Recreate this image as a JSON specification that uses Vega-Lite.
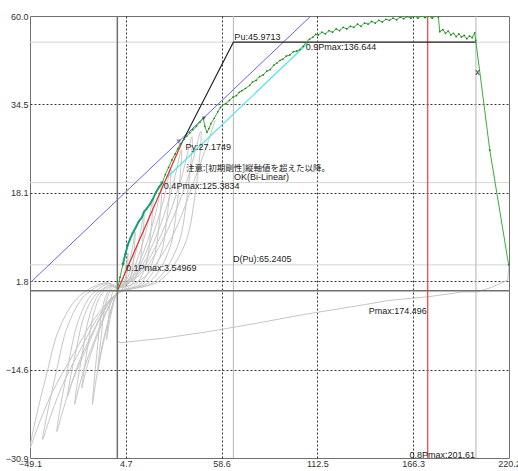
{
"$schema": "https://vega.github.io/schema/vega-lite/v6.json",
"width": 479, "height": 442,
"autosize": {"type": "none"},
"padding": {"left": 30, "top": 16, "right": 9, "bottom": 13},
"background": "white",
"config": {
  "view": {"stroke": "#707070", "strokeWidth": 1},
  "axis": {"labelFont": "Liberation Sans Narrow, Liberation Sans, sans-serif", "labelFontSize": 9, "labelColor": "#333", "domain": false, "ticks": false, "title": null, "gridColor": "#333", "gridDash": [2, 2], "gridWidth": 1, "labelOverlap": false, "labelFlush": false}
},
"datasets": {
  "vlines": [{"k": "zero", "x": 0}, {"k": "dpu", "x": 65.24}, {"k": "pmax", "x": 174.496}, {"k": "p08", "x": 201.61}],
  "hlines": [{"k": "zero", "y": 0}, {"k": "pu", "y": 45.97}, {"k": "p04", "y": 20.0}, {"k": "p01", "y": 4.8}],
  "gray": [
    {"i":0,"x":0,"y":0},
    {"i":1,"x":1.8,"y":0.8},{"i":2,"x":3.6,"y":2.7},{"i":3,"x":5.1,"y":5.0},{"i":4,"x":6,"y":7},{"i":5,"x":5.6,"y":4.2},{"i":6,"x":4.8,"y":2.0},{"i":7,"x":3,"y":0.4},{"i":8,"x":0,"y":-0.5},
    {"i":9,"x":-1.5,"y":-1.5},{"i":10,"x":-3,"y":-3.6},{"i":11,"x":-4.5,"y":-5.9},{"i":12,"x":-5.5,"y":-7.9},{"i":13,"x":-6,"y":-9},{"i":14,"x":-5.8,"y":-8.1},{"i":15,"x":-4.9,"y":-5},{"i":16,"x":-4,"y":-2.1},{"i":17,"x":-2.6,"y":-0.3},{"i":18,"x":-0.7,"y":0.5},{"i":19,"x":0,"y":0.5},
    {"i":20,"x":3,"y":1.3},{"i":21,"x":6,"y":4.2},{"i":22,"x":8.5,"y":7.9},{"i":23,"x":10,"y":11},{"i":24,"x":9.3,"y":6.6},{"i":25,"x":8,"y":3.1},{"i":26,"x":5,"y":0.7},{"i":27,"x":0,"y":-0.5},
    {"i":28,"x":-2.8,"y":-2.6},{"i":29,"x":-5.5,"y":-6},{"i":30,"x":-8.3,"y":-9.8},{"i":31,"x":-10.1,"y":-13.2},{"i":32,"x":-11,"y":-15},{"i":33,"x":-10.7,"y":-13.5},{"i":34,"x":-9,"y":-8.3},{"i":35,"x":-7.3,"y":-3.5},{"i":36,"x":-4.7,"y":-0.5},{"i":37,"x":-1.3,"y":0.8},{"i":38,"x":0,"y":0.5},
    {"i":39,"x":4.5,"y":1.7},{"i":40,"x":9,"y":5.5},{"i":41,"x":12.8,"y":10.4},{"i":42,"x":15,"y":14.5},{"i":43,"x":14,"y":8.7},{"i":44,"x":12,"y":4.1},{"i":45,"x":7.5,"y":0.9},{"i":46,"x":0,"y":-0.5},
    {"i":47,"x":-3.5,"y":-3.6},{"i":48,"x":-7,"y":-8.4},{"i":49,"x":-10.5,"y":-13.7},{"i":50,"x":-12.9,"y":-18.5},{"i":51,"x":-14,"y":-21},{"i":52,"x":-13.6,"y":-18.9},{"i":53,"x":-11.5,"y":-11.6},{"i":54,"x":-9.2,"y":-4.8},{"i":55,"x":-6,"y":-0.6},{"i":56,"x":-1.7,"y":1.1},{"i":57,"x":0,"y":0.5},
    {"i":58,"x":6,"y":2},{"i":59,"x":12,"y":6.5},{"i":60,"x":17,"y":12.2},{"i":61,"x":20,"y":17},{"i":62,"x":18.6,"y":10.2},{"i":63,"x":16,"y":4.8},{"i":64,"x":10,"y":1},{"i":65,"x":0,"y":-0.5},
    {"i":66,"x":-5,"y":-3.1},{"i":67,"x":-10,"y":-7.2},{"i":68,"x":-15,"y":-11.7},{"i":69,"x":-18.4,"y":-15.8},{"i":70,"x":-20,"y":-18},{"i":71,"x":-19.4,"y":-16.2},{"i":72,"x":-16.4,"y":-9.9},{"i":73,"x":-13.2,"y":-4.1},{"i":74,"x":-8.6,"y":-0.5},{"i":75,"x":-2.4,"y":0.9},{"i":76,"x":0,"y":0.5},
    {"i":77,"x":7.5,"y":2.3},{"i":78,"x":15,"y":7.4},{"i":79,"x":21.3,"y":14},{"i":80,"x":25,"y":19.5},{"i":81,"x":23.3,"y":11.7},{"i":82,"x":20,"y":5.5},{"i":83,"x":12.5,"y":1.2},{"i":84,"x":0,"y":-0.5},
    {"i":85,"x":-6,"y":-3.6},{"i":86,"x":-12,"y":-8.4},{"i":87,"x":-18,"y":-13.7},{"i":88,"x":-22.1,"y":-18.5},{"i":89,"x":-24,"y":-21},{"i":90,"x":-23.3,"y":-18.9},{"i":91,"x":-19.7,"y":-11.6},{"i":92,"x":-15.8,"y":-4.8},{"i":93,"x":-10.3,"y":-0.6},{"i":94,"x":-2.9,"y":1.1},{"i":95,"x":0,"y":0.5},
    {"i":96,"x":9,"y":2.7},{"i":97,"x":18,"y":8.6},{"i":98,"x":25.5,"y":16.2},{"i":99,"x":30,"y":22.5},{"i":100,"x":27.9,"y":13.5},{"i":101,"x":24,"y":6.3},{"i":102,"x":15,"y":1.4},{"i":103,"x":0,"y":-0.5},
    {"i":104,"x":-7,"y":-3.3},{"i":105,"x":-14,"y":-7.8},{"i":106,"x":-21,"y":-12.7},{"i":107,"x":-25.8,"y":-17.2},{"i":108,"x":-28,"y":-19.5},{"i":109,"x":-27.2,"y":-17.6},{"i":110,"x":-23,"y":-10.7},{"i":111,"x":-18.5,"y":-4.5},{"i":112,"x":-12,"y":-0.6},{"i":113,"x":-3.4,"y":1},{"i":114,"x":0,"y":0.5},
    {"i":115,"x":10.8,"y":3.1},{"i":116,"x":21.6,"y":9.9},{"i":117,"x":30.6,"y":18.7},{"i":118,"x":36,"y":26},{"i":119,"x":33.5,"y":15.6},{"i":120,"x":28.8,"y":7.3},{"i":121,"x":18,"y":1.6},{"i":122,"x":0,"y":-0.5},
    {"i":123,"x":-8.5,"y":-4.4},{"i":124,"x":-17,"y":-10.4},{"i":125,"x":-25.5,"y":-16.9},{"i":126,"x":-31.3,"y":-22.9},{"i":127,"x":-34,"y":-26},{"i":128,"x":-33,"y":-23.4},{"i":129,"x":-27.9,"y":-14.3},{"i":130,"x":-22.4,"y":-6},{"i":131,"x":-14.6,"y":-0.8},{"i":132,"x":-4.1,"y":1.3},{"i":133,"x":0,"y":0.5},
    {"i":134,"x":12.6,"y":3.4},{"i":135,"x":25.2,"y":10.8},{"i":136,"x":35.7,"y":20.5},{"i":137,"x":42,"y":28.5},{"i":138,"x":39.1,"y":17.1},{"i":139,"x":33.6,"y":8},{"i":140,"x":21,"y":1.7},{"i":141,"x":0,"y":-0.5},
    {"i":142,"x":-10.5,"y":-4.7},{"i":143,"x":-21,"y":-11},{"i":144,"x":-31.5,"y":-17.9},{"i":145,"x":-38.6,"y":-24.2},{"i":146,"x":-42,"y":-27.5},{"i":147,"x":-40.7,"y":-24.8},{"i":148,"x":-34.4,"y":-15.1},{"i":149,"x":-27.7,"y":-6.3},{"i":150,"x":-18.1,"y":-0.8},{"i":151,"x":-5,"y":1.4},{"i":152,"x":0,"y":0.5},
    {"i":153,"x":14.1,"y":3.5},{"i":154,"x":28.2,"y":11.2},{"i":155,"x":40,"y":21.2},{"i":156,"x":47,"y":29.5},{"i":157,"x":43.7,"y":17.7},{"i":158,"x":37.6,"y":8.3},{"i":159,"x":23.5,"y":1.8},{"i":160,"x":0,"y":-0.5},
    {"i":161,"x":-12.3,"y":-4.9},{"i":162,"x":-24.5,"y":-11.6},{"i":163,"x":-36.8,"y":-18.9},{"i":164,"x":-45.1,"y":-25.5},{"i":165,"x":-49,"y":-29},{"i":166,"x":-47.5,"y":-26.1},{"i":167,"x":-40.2,"y":-16},{"i":168,"x":-32.3,"y":-6.7},{"i":169,"x":-21.1,"y":-0.9},{"i":170,"x":-5.9,"y":1.5},{"i":171,"x":0,"y":0.5},
    {"i":172,"x":15,"y":2.5},{"i":173,"x":30,"y":9.5},{"i":174,"x":45,"y":22},{"i":175,"x":55,"y":31.5}
  ],
  "tail": [
    {"i":0,"x":220.2,"y":4.8},{"i":1,"x":219.5,"y":2.0},{"i":2,"x":210,"y":0.6},{"i":3,"x":202,"y":-0.2},{"i":4,"x":194.2,"y":-0.2},{"i":5,"x":174.5,"y":-1.1},{"i":6,"x":152,"y":-1.8},{"i":7,"x":143.6,"y":-2.3},{"i":8,"x":125,"y":-3.3},{"i":9,"x":102.6,"y":-4.5},{"i":10,"x":80,"y":-5.9},{"i":11,"x":50,"y":-7.6},{"i":12,"x":25,"y":-8.8},{"i":13,"x":7.1,"y":-9.4},{"i":14,"x":2,"y":-9.6},{"i":15,"x":0,"y":-9.3},{"i":16,"x":0,"y":-7.5}
  ],
  "green": [
    {"i":1,"x":0,"y":0},{"i":2,"x":1.5,"y":2.5},{"i":3,"x":3.2,"y":5.0},{"i":4,"x":4.5,"y":6.8},{"i":5,"x":6,"y":8.6},{"i":6,"x":7.2,"y":9.6},{"i":7,"x":8.5,"y":10.6},{"i":8,"x":10.5,"y":11.8},{"i":9,"x":12,"y":12.8},{"i":10,"x":13.8,"y":13.6},{"i":11,"x":15,"y":14.6},{"i":12,"x":16.5,"y":15.2},{"i":13,"x":18.3,"y":16.0},{"i":14,"x":20,"y":17.0},{"i":15,"x":21.7,"y":18.2},{"i":16,"x":23.5,"y":19.2},{"i":17,"x":25.1,"y":19.9},{"i":18,"x":27,"y":21.5},{"i":19,"x":28.8,"y":22.8},{"i":20,"x":30.7,"y":24.2},{"i":21,"x":32.5,"y":25.3},{"i":22,"x":34,"y":26.3},{"i":23,"x":35.5,"y":27.2},{"i":24,"x":37.5,"y":28.0},{"i":25,"x":39,"y":28.6},{"i":26,"x":40.8,"y":29.2},{"i":27,"x":42.5,"y":29.8},{"i":28,"x":44.5,"y":30.4},{"i":29,"x":46.5,"y":31.2},{"i":30,"x":48.3,"y":31.9},{"i":31,"x":49.2,"y":30.4},{"i":32,"x":50.4,"y":29.3},{"i":33,"x":51.5,"y":30.0},{"i":34,"x":52.6,"y":30.9},{"i":35,"x":54.5,"y":31.9},{"i":36,"x":56.5,"y":33.1},{"i":37,"x":58,"y":33.9},{"i":38,"x":59.3,"y":34.4},{"i":39,"x":61,"y":34.6},{"i":40,"x":63,"y":35.2},{"i":41,"x":65,"y":35.8},{"i":42,"x":67,"y":36.1},{"i":43,"x":68.5,"y":36.7},{"i":44,"x":70,"y":37.0},{"i":45,"x":72,"y":37.4},{"i":46,"x":74.5,"y":38.0},{"i":47,"x":76,"y":38.6},{"i":48,"x":78,"y":38.9},{"i":49,"x":80,"y":39.6},{"i":50,"x":82,"y":39.9},{"i":51,"x":84,"y":40.6},{"i":52,"x":86,"y":40.9},{"i":53,"x":88,"y":41.7},{"i":54,"x":89.7,"y":42.1},{"i":55,"x":91.5,"y":42.6},{"i":56,"x":93,"y":42.8},{"i":57,"x":95,"y":43.4},{"i":58,"x":97,"y":43.6},{"i":59,"x":99,"y":44.2},{"i":60,"x":100.8,"y":44.3},{"i":61,"x":102.6,"y":44.6},{"i":62,"x":104.5,"y":45.2},{"i":63,"x":106,"y":45.9},{"i":64,"x":108,"y":46.5},{"i":65,"x":110,"y":46.9},{"i":66,"x":111.5,"y":47.4},{"i":67,"x":113,"y":47.3},{"i":68,"x":115,"y":47.8},{"i":69,"x":117,"y":47.5},{"i":70,"x":119,"y":48.1},{"i":71,"x":121,"y":47.8},{"i":72,"x":123,"y":48.4},{"i":73,"x":125,"y":48.1},{"i":74,"x":127,"y":48.7},{"i":75,"x":129,"y":48.4},{"i":76,"x":131,"y":48.9},{"i":77,"x":133,"y":48.7},{"i":78,"x":135,"y":49.3},{"i":79,"x":137,"y":48.9},{"i":80,"x":139,"y":49.5},{"i":81,"x":141,"y":49.3},{"i":82,"x":143,"y":49.8},{"i":83,"x":145,"y":49.5},{"i":84,"x":147,"y":50.0},{"i":85,"x":149,"y":49.7},{"i":86,"x":151,"y":50.2},{"i":87,"x":153,"y":50.0},{"i":88,"x":155,"y":50.4},{"i":89,"x":157,"y":50.1},{"i":90,"x":159,"y":50.6},{"i":91,"x":161,"y":50.3},{"i":92,"x":163,"y":50.7},{"i":93,"x":165,"y":50.4},{"i":94,"x":167,"y":50.8},{"i":95,"x":169,"y":50.4},{"i":96,"x":171,"y":50.8},{"i":97,"x":173,"y":50.5},{"i":98,"x":175,"y":50.8},{"i":99,"x":177,"y":50.4},{"i":100,"x":179,"y":50.8},{"i":101,"x":180.5,"y":50.6},{"i":102,"x":181.3,"y":47.9},{"i":103,"x":183,"y":48.3},{"i":104,"x":184.5,"y":47.6},{"i":105,"x":186,"y":48.0},{"i":106,"x":187.5,"y":47.3},{"i":107,"x":189,"y":47.6},{"i":108,"x":190.5,"y":47.0},{"i":109,"x":192,"y":47.5},{"i":110,"x":193.5,"y":46.9},{"i":111,"x":195,"y":47.2},{"i":112,"x":196.5,"y":46.6},{"i":113,"x":198,"y":47.1},{"i":114,"x":199.5,"y":46.8},{"i":115,"x":200.9,"y":47.7},{"i":116,"x":201.5,"y":46.3},{"i":117,"x":209.4,"y":26.0},{"i":118,"x":220.0,"y":4.8}
  ],
  "teal": [
    {"i":1,"x":3.2,"y":5.0},{"i":2,"x":4.5,"y":6.8},{"i":3,"x":6,"y":8.6},{"i":4,"x":7.2,"y":9.6},{"i":5,"x":8.5,"y":10.6},{"i":6,"x":10.5,"y":11.8},{"i":7,"x":12,"y":12.8},{"i":8,"x":13.8,"y":13.6},{"i":9,"x":15,"y":14.6},{"i":10,"x":16.5,"y":15.2},{"i":11,"x":18.3,"y":16.0},{"i":12,"x":20,"y":17.0},{"i":13,"x":21.7,"y":18.2},{"i":14,"x":23.5,"y":19.2},{"i":15,"x":25.1,"y":19.9}
  ],
  "red": [{"i":1,"x":0,"y":0},{"i":2,"x":36,"y":27.17}],
  "black": [{"i":1,"x":36,"y":27.17},{"i":2,"x":65.24,"y":45.97},{"i":3,"x":201.61,"y":45.97}],
  "blue": [{"i":1,"x":-49.1,"y":1.46},{"i":2,"x":108.8,"y":50.8}],
  "cyan": [{"i":1,"x":28,"y":21.0},{"i":2,"x":107.1,"y":45.8}],
  "marks": [{"k":"py","x":34.5,"y":27.6},{"k":"dark","x":48.7,"y":31.9},{"k":"g","x":25.1,"y":19.9},{"k":"g","x":3.2,"y":4.8}],
  "labl": [
    {"t":"Pu:45.9713","x":65.24,"y":46.9},
    {"t":"0.9Pmax:136.644","x":105.4,"y":45.1},
    {"t":"Py:27.1749","x":37.8,"y":26.6},
    {"t":"OK(Bi-Linear)","x":65.0,"y":21.0},
    {"t":"0.4Pmax:125.3834","x":25.6,"y":19.4},
    {"t":"0.1Pmax:3.54969","x":4.3,"y":4.2},
    {"t":"D(Pu):65.2405","x":64.4,"y":5.9},
    {"t":"x","x":200.6,"y":40.5}
  ],
  "labr": [{"t":"Pmax:174.496","x":174.496,"y":-3.7},{"t":"0.8Pmax:201.61","x":201.61,"y":-30.3}],
  "labj": [{"t":"注意:[初期剛性]縦軸値を超えた以降。","x":38.6,"y":22.7}]
},
"layer": [
  {"data": {"name": "hlines"}, "transform": [{"filter": "datum.k != 'zero'"}], "mark": {"type": "rule", "color": "#d4d4d4", "strokeWidth": 1},
   "encoding": {"y": {"field": "y", "type": "quantitative", "scale": {"domain": [-30.9, 50.8], "nice": false, "zero": false},
     "axis": {"values": [-30.9, -14.6, 1.8, 18.1, 34.5, 50.8], "labelExpr": "datum.value > 50 ? '60.0' : format(datum.value, '.1f')", "labelPadding": 2, "gridOpacity": {"condition": {"test": "datum.value < -30.8 || datum.value > 50.7", "value": 0}, "value": 1}}}}},
  {"data": {"name": "vlines"}, "transform": [{"filter": "datum.k == 'dpu' || datum.k == 'p08'"}], "mark": {"type": "rule", "color": "#b4b4b4", "strokeWidth": 1},
   "encoding": {"x": {"field": "x", "type": "quantitative", "scale": {"domain": [-49.1, 220.2], "nice": false, "zero": false},
     "axis": {"values": [-49.1, 4.7, 58.6, 112.5, 166.3, 220.2], "format": ".1f", "labelPadding": 1, "gridOpacity": {"condition": {"test": "datum.value < -49 || datum.value > 220", "value": 0}, "value": 1}}}}},
  {"data": {"name": "gray"}, "mark": {"type": "line", "color": "#c6c6c6", "strokeWidth": 1, "interpolate": "catmull-rom", "clip": true},
   "encoding": {"x": {"field": "x", "type": "quantitative", "scale": {"domain": [-49.1, 220.2], "nice": false, "zero": false}}, "y": {"field": "y", "type": "quantitative", "scale": {"domain": [-30.9, 50.8], "nice": false, "zero": false}}, "order": {"field": "i"}}},
  {"data": {"name": "tail"}, "mark": {"type": "line", "color": "#c6c6c6", "strokeWidth": 1, "clip": true},
   "encoding": {"x": {"field": "x", "type": "quantitative", "scale": {"domain": [-49.1, 220.2], "nice": false, "zero": false}}, "y": {"field": "y", "type": "quantitative", "scale": {"domain": [-30.9, 50.8], "nice": false, "zero": false}}, "order": {"field": "i"}}},
  {"data": {"name": "hlines"}, "transform": [{"filter": "datum.k == 'zero'"}], "mark": {"type": "rule", "color": "#707070", "strokeWidth": 1.5},
   "encoding": {"y": {"field": "y", "type": "quantitative", "scale": {"domain": [-30.9, 50.8], "nice": false, "zero": false}}}},
  {"data": {"name": "vlines"}, "transform": [{"filter": "datum.k == 'zero'"}], "mark": {"type": "rule", "color": "#707070", "strokeWidth": 1.5},
   "encoding": {"x": {"field": "x", "type": "quantitative", "scale": {"domain": [-49.1, 220.2], "nice": false, "zero": false}}}},
  {"data": {"name": "vlines"}, "transform": [{"filter": "datum.k == 'pmax'"}], "mark": {"type": "rule", "color": "#e84040", "strokeWidth": 1.2},
   "encoding": {"x": {"field": "x", "type": "quantitative", "scale": {"domain": [-49.1, 220.2], "nice": false, "zero": false}}}},
  {"data": {"name": "blue"}, "mark": {"type": "line", "color": "#6464dc", "strokeWidth": 1, "clip": true},
   "encoding": {"x": {"field": "x", "type": "quantitative", "scale": {"domain": [-49.1, 220.2], "nice": false, "zero": false}}, "y": {"field": "y", "type": "quantitative", "scale": {"domain": [-30.9, 50.8], "nice": false, "zero": false}}, "order": {"field": "i"}}},
  {"data": {"name": "cyan"}, "mark": {"type": "line", "color": "#4ee6e6", "strokeWidth": 1.2, "clip": true},
   "encoding": {"x": {"field": "x", "type": "quantitative", "scale": {"domain": [-49.1, 220.2], "nice": false, "zero": false}}, "y": {"field": "y", "type": "quantitative", "scale": {"domain": [-30.9, 50.8], "nice": false, "zero": false}}, "order": {"field": "i"}}},
  {"data": {"name": "black"}, "mark": {"type": "line", "color": "#222222", "strokeWidth": 1.1, "clip": true},
   "encoding": {"x": {"field": "x", "type": "quantitative", "scale": {"domain": [-49.1, 220.2], "nice": false, "zero": false}}, "y": {"field": "y", "type": "quantitative", "scale": {"domain": [-30.9, 50.8], "nice": false, "zero": false}}, "order": {"field": "i"}}},
  {"data": {"name": "red"}, "mark": {"type": "line", "color": "#e03030", "strokeWidth": 1.2, "clip": true},
   "encoding": {"x": {"field": "x", "type": "quantitative", "scale": {"domain": [-49.1, 220.2], "nice": false, "zero": false}}, "y": {"field": "y", "type": "quantitative", "scale": {"domain": [-30.9, 50.8], "nice": false, "zero": false}}, "order": {"field": "i"}}},
  {"data": {"name": "green"}, "mark": {"type": "line", "color": "#36b036", "strokeWidth": 1, "clip": true, "point": {"filled": true, "size": 3, "color": "#2a7a2a"}},
   "encoding": {"x": {"field": "x", "type": "quantitative", "scale": {"domain": [-49.1, 220.2], "nice": false, "zero": false}}, "y": {"field": "y", "type": "quantitative", "scale": {"domain": [-30.9, 50.8], "nice": false, "zero": false}}, "order": {"field": "i"}}},
  {"data": {"name": "teal"}, "mark": {"type": "line", "color": "#17a07c", "strokeWidth": 2, "clip": true},
   "encoding": {"x": {"field": "x", "type": "quantitative", "scale": {"domain": [-49.1, 220.2], "nice": false, "zero": false}}, "y": {"field": "y", "type": "quantitative", "scale": {"domain": [-30.9, 50.8], "nice": false, "zero": false}}, "order": {"field": "i"}}},
  {"data": {"name": "marks"}, "transform": [{"filter": "datum.k == 'py'"}], "mark": {"type": "point", "shape": "triangle-down", "filled": true, "size": 22, "color": "#5a3cc8"},
   "encoding": {"x": {"field": "x", "type": "quantitative", "scale": {"domain": [-49.1, 220.2], "nice": false, "zero": false}}, "y": {"field": "y", "type": "quantitative", "scale": {"domain": [-30.9, 50.8], "nice": false, "zero": false}}}},
  {"data": {"name": "marks"}, "transform": [{"filter": "datum.k == 'dark'"}], "mark": {"type": "point", "shape": "triangle-down", "filled": true, "size": 16, "color": "#333355"},
   "encoding": {"x": {"field": "x", "type": "quantitative", "scale": {"domain": [-49.1, 220.2], "nice": false, "zero": false}}, "y": {"field": "y", "type": "quantitative", "scale": {"domain": [-30.9, 50.8], "nice": false, "zero": false}}}},
  {"data": {"name": "marks"}, "transform": [{"filter": "datum.k == 'g'"}], "mark": {"type": "point", "shape": "triangle-down", "filled": true, "size": 16, "color": "#1f8a3a"},
   "encoding": {"x": {"field": "x", "type": "quantitative", "scale": {"domain": [-49.1, 220.2], "nice": false, "zero": false}}, "y": {"field": "y", "type": "quantitative", "scale": {"domain": [-30.9, 50.8], "nice": false, "zero": false}}}},
  {"data": {"name": "labl"}, "mark": {"type": "text", "align": "left", "baseline": "middle", "dx": 1, "font": "Liberation Sans Narrow, Liberation Sans, sans-serif", "fontSize": 9, "color": "#222"},
   "encoding": {"x": {"field": "x", "type": "quantitative", "scale": {"domain": [-49.1, 220.2], "nice": false, "zero": false}}, "y": {"field": "y", "type": "quantitative", "scale": {"domain": [-30.9, 50.8], "nice": false, "zero": false}}, "text": {"field": "t"}}},
  {"data": {"name": "labr"}, "mark": {"type": "text", "align": "right", "baseline": "middle", "dx": -1, "font": "Liberation Sans Narrow, Liberation Sans, sans-serif", "fontSize": 9, "color": "#222"},
   "encoding": {"x": {"field": "x", "type": "quantitative", "scale": {"domain": [-49.1, 220.2], "nice": false, "zero": false}}, "y": {"field": "y", "type": "quantitative", "scale": {"domain": [-30.9, 50.8], "nice": false, "zero": false}}, "text": {"field": "t"}}},
  {"data": {"name": "labj"}, "mark": {"type": "text", "align": "left", "baseline": "middle", "font": "Noto Sans CJK JP", "fontSize": 8.5, "color": "#222"},
   "encoding": {"x": {"field": "x", "type": "quantitative", "scale": {"domain": [-49.1, 220.2], "nice": false, "zero": false}}, "y": {"field": "y", "type": "quantitative", "scale": {"domain": [-30.9, 50.8], "nice": false, "zero": false}}, "text": {"field": "t"}}}
]
}
